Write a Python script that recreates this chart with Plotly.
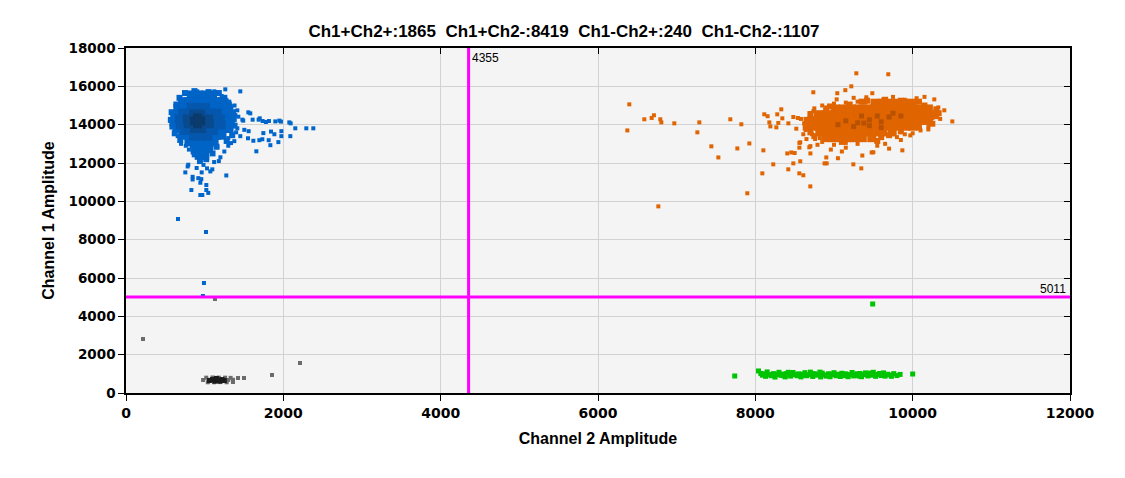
import plotly.graph_objects as go

# ---------------- data ----------------
threshold_ch2 = 4355
threshold_ch1 = 5011
quadrant_labels = ["Ch1+Ch2+", "Ch1+Ch2-", "Ch1-Ch2+", "Ch1-Ch2-"]
quadrant_counts = [1865, 8419, 240, 1107]

x_ticks = [0, 2000, 4000, 6000, 8000, 10000, 12000]
y_ticks = [0, 2000, 4000, 6000, 8000, 10000, 12000, 14000, 16000, 18000]

# Ch1+Ch2- cluster (blue): scattered droplets
blue_points = [
    (1262, 15843), (1453, 15738), (983, 15633), (1415, 14747), (1555, 14643), (1580, 14590),
    (1428, 14416), (1479, 14260), (1490, 14210), (1610, 14260), (1686, 14260), (1700, 14330),
    (1737, 14190), (1779, 14140), (1817, 14190), (1898, 14170), (1949, 14210), (1970, 14160),
    (2076, 14120), (2093, 14070), (2152, 13810), (2292, 13810), (2381, 13810), (2089, 13400),
    (1975, 13400), (1937, 13090), (1835, 12930), (1814, 13190), (1886, 13500), (1975, 13660),
    (1843, 13640), (1746, 13560), (1733, 13240), (1695, 13190), (1619, 13160), (1551, 13290),
    (1559, 13660), (1504, 13730), (1453, 13400), (1377, 13140), (1335, 13040), (1657, 12610),
    (1415, 13810), (1364, 14210), (1356, 14640), (1275, 11350), (754, 11510), (784, 11820),
    (847, 11280), (847, 11140), (919, 11210), (957, 11160), (945, 10970), (1021, 10850),
    (831, 10590), (1021, 10590), (1046, 10440), (945, 10330), (970, 10330), (962, 11510),
    (1097, 11670), (1030, 11720), (1072, 11560), (898, 11740), (792, 11910), (1161, 12820),
    (1120, 12050), (985, 11900), (614, 14100), (631, 13730), (657, 13400), (699, 13400),
    (745, 15130), (834, 15530), (906, 15740), (1122, 15740), (1216, 15500), (1280, 15270),
    (1320, 15100), (1390, 14500), (1400, 13600), (1300, 12900), (1250, 12600), (1200, 12300),
    (861, 12400), (800, 12700), (700, 13000), (1380, 15000), (1180, 12100), (600, 14400),
    (640, 14900), (1340, 14900), (1300, 13300), (760, 12900),
    (661, 9077), (1017, 8400), (991, 5740), (978, 5060),
]
# ragged rim of the blue body
blue_rim = [
    (750, 15650), (870, 15750), (1050, 15700), (1180, 15650), (1250, 15400), (680, 15400),
    (640, 15050), (580, 14650), (570, 14250), (590, 13900), (620, 13550), (1370, 14300),
    (1380, 13950), (1350, 13450), (1280, 13150), (690, 13200), (850, 12900), (1150, 12850),
    (1100, 12500), (860, 12600), (1020, 12200), (940, 12100), (1300, 15150), (1360, 14650),
]
# dense body of the blue cluster, darker towards its centre
blue_body = [
    (830, 15550), (920, 15550), (1010, 15550), (1100, 15550),
    (720, 15200), (800, 15200), (880, 15200), (970, 15200), (1060, 15200), (1150, 15200), (1230, 15200),
    (660, 14850), (740, 14850), (820, 14850), (910, 14850), (1000, 14850), (1090, 14850), (1180, 14850), (1260, 14850), (1300, 14850),
    (620, 14500), (710, 14500), (800, 14500), (890, 14500), (980, 14500), (1070, 14500), (1160, 14500), (1250, 14500), (1330, 14500),
    (610, 14150), (700, 14150), (790, 14150), (880, 14150), (970, 14150), (1060, 14150), (1150, 14150), (1240, 14150), (1320, 14150),
    (650, 13800), (730, 13800), (820, 13800), (910, 13800), (1000, 13800), (1090, 13800), (1180, 13800), (1260, 13800), (1310, 13800),
    (720, 13450), (800, 13450), (880, 13450), (970, 13450), (1060, 13450), (1150, 13450), (1220, 13450),
    (800, 13100), (870, 13100), (960, 13100), (1050, 13100), (1120, 13100),
    (890, 12750), (970, 12750), (1050, 12750),
    (930, 12400), (1000, 12400),
]
blue_mid = [
    (830, 14900), (920, 14900), (1010, 14900),
    (720, 14600), (810, 14600), (900, 14600), (990, 14600), (1080, 14600), (1160, 14600),
    (680, 14300), (770, 14300), (860, 14300), (950, 14300), (1040, 14300), (1130, 14300), (1200, 14300),
    (690, 14000), (780, 14000), (870, 14000), (960, 14000), (1050, 14000), (1140, 14000), (1210, 14000),
    (750, 13700), (840, 13700), (930, 13700), (1020, 13700), (1110, 13700),
    (860, 13400), (950, 13400), (1040, 13400),
]
blue_inner = [
    (860, 14550), (950, 14550),
    (780, 14300), (870, 14300), (960, 14300), (1050, 14300),
    (790, 14050), (880, 14050), (970, 14050), (1060, 14050),
    (870, 13800), (960, 13800),
]
blue_centre = [(870, 14200), (950, 14200), (910, 14050), (910, 14350)]

# Ch1+Ch2+ cluster (orange)
orange_points = [
    (6398, 15060), (6373, 13700), (6589, 14280), (6682, 14350), (6711, 14490), (6792, 14280),
    (6805, 14120), (6970, 14070), (7288, 14120), (7263, 13600), (7682, 14280), (7822, 14020),
    (7441, 12870), (7530, 12290), (7771, 12760), (7924, 13020), (7898, 10420), (6767, 9738),
    (8089, 11460), (8102, 12660), (8228, 11930), (8419, 11670), (8406, 12500), (8457, 12550),
    (8483, 11980), (8559, 11460), (8610, 11360), (8699, 10780), (8571, 12090), (8571, 13080),
    (8686, 12820), (8737, 14700), (8737, 15690), (9042, 15640), (9144, 15800), (9220, 16000),
    (9284, 16680), (9690, 16630), (9487, 15640), (9411, 15430), (9034, 15320), (9627, 15320),
    (10275, 15320), (10326, 14900), (10402, 14750), (10504, 14170), (10199, 13750), (9970, 13440),
    (9869, 12660), (9479, 12550), (9500, 12560), (9360, 12390), (9347, 11720), (9246, 11930),
    (8907, 11980), (8880, 11980), (8902, 12290), (8114, 14540), (8156, 14440), (8178, 14120),
    (8191, 13910), (8267, 13860), (8279, 14540), (8330, 14800), (8343, 14330), (8292, 14090),
    (8420, 14070), (8483, 14400), (8521, 13790), (8540, 14350), (8580, 14300), (8620, 14070),
    (8640, 13720), (8610, 13500), (8650, 13250), (8560, 13050), (8700, 12880), (8760, 13250),
    (8800, 13550), (8790, 12950), (8850, 13100), (9000, 12950), (9150, 12800), (9100, 12600),
    (8960, 12700), (8500, 12520), (8700, 14600), (8750, 14850), (8850, 15000), (9000, 15100),
    (9250, 15400), (9750, 15450), (9900, 15300), (10050, 15380), (10150, 15450), (10200, 13900),
    (10000, 13550), (10250, 14350), (9850, 13200), (9650, 13000), (9550, 12900), (9700, 12750),
    (9050, 12250), (8700, 12500), (8560, 12800), (9150, 15150), (9300, 15200), (9400, 15150),
    (8900, 14900), (10100, 13700), (9900, 13500), (9800, 13350), (9300, 13000), (9150, 13050),
    (8820, 13300), (8720, 13500), (8680, 14300), (8660, 14000), (10300, 14550), (10350, 14300),
]
# ragged rim of the orange body
orange_rim = [
    (9420, 15250), (10080, 15200), (8900, 14750), (8950, 14950), (10300, 14800), (10330, 14600),
    (8700, 14550), (8650, 14250), (8640, 13850), (8700, 13600), (8750, 13400), (8880, 13250),
    (9600, 13350), (9700, 13450), (9850, 13650), (10080, 13850), (10250, 14050), (9550, 13150),
    (9100, 13100), (9200, 15050), (9350, 15200), (10150, 15000), (9850, 15250), (9650, 15300),
]
orange_body = [
    (9520, 15120), (9610, 15120), (9700, 15120), (9800, 15120), (9890, 15120), (9990, 15120),
    (9020, 14820), (9120, 14820), (9220, 14820), (9310, 14820), (9410, 14820), (9510, 14820), (9600, 14820),
    (9700, 14820), (9800, 14820), (9890, 14820), (9990, 14820), (10090, 14820), (10200, 14820),
    (8800, 14520), (8900, 14520), (9000, 14520), (9100, 14520), (9200, 14520), (9300, 14520), (9400, 14520),
    (9500, 14520), (9600, 14520), (9700, 14520), (9800, 14520), (9900, 14520), (10000, 14520), (10100, 14520),
    (10200, 14520), (10280, 14520),
    (8720, 14220), (8820, 14220), (8920, 14220), (9020, 14220), (9120, 14220), (9220, 14220), (9320, 14220),
    (9420, 14220), (9520, 14220), (9620, 14220), (9720, 14220), (9820, 14220), (9920, 14220), (10020, 14220),
    (10120, 14220), (10200, 14220),
    (8710, 13920), (8810, 13920), (8910, 13920), (9010, 13920), (9110, 13920), (9210, 13920), (9310, 13920),
    (9410, 13920), (9510, 13920), (9610, 13920), (9710, 13920), (9810, 13920), (9910, 13920), (10000, 13920),
    (8820, 13620), (8920, 13620), (9020, 13620), (9120, 13620), (9220, 13620), (9320, 13620), (9420, 13620),
    (9520, 13620), (9620, 13620), (9740, 13620),
    (8960, 13320), (9060, 13320), (9160, 13320), (9260, 13320), (9360, 13320), (9480, 13320),
]
orange_dense = [
    (9150, 14200), (9300, 14100), (9450, 14250), (9600, 14150), (9350, 14450), (9550, 14450),
    (9700, 14400), (9250, 13900), (9450, 13950), (9750, 14600), (9050, 14000), (9600, 13850),
    (9850, 14450), (9380, 14080),
]

# Ch1-Ch2+ cluster (green)
green_points = [
    (7738, 887), (8040, 1150), (8070, 1020), (8090, 930), (8130, 870), (8150, 1100), (8170, 960),
    (8200, 900), (8230, 1010), (8250, 830), (8280, 950), (8300, 1080), (8330, 920), (8350, 990),
    (8380, 840), (8400, 1020), (8430, 940), (8450, 880), (8480, 1070), (8500, 960), (8530, 900),
    (8550, 1000), (8580, 840), (8600, 980), (8630, 1060), (8650, 900), (8680, 950), (8700, 1090),
    (8730, 860), (8750, 1010), (8780, 930), (8800, 970), (8830, 840), (8850, 1040), (8880, 950),
    (8900, 880), (8930, 1000), (8950, 850), (8980, 960), (9000, 1060), (9030, 900), (9050, 980),
    (9080, 860), (9100, 1030), (9130, 940), (9150, 1000), (9180, 850), (9200, 960), (9230, 1070),
    (9250, 890), (9280, 980), (9300, 920), (9330, 1020), (9350, 850), (9380, 960), (9400, 1050),
    (9430, 890), (9450, 990), (9480, 930), (9500, 1080), (9530, 870), (9550, 970), (9580, 1020),
    (9600, 910), (9630, 1050), (9650, 880), (9680, 980), (9720, 940), (9760, 1010), (9800, 910),
    (9840, 970), (10000, 991), (8250, 980), (8600, 920), (8950, 990), (9300, 1000), (9650, 950),
    (8120, 1000), (8420, 1080), (8720, 1000), (9020, 940), (9320, 880), (9620, 990), (8360, 900),
    (8820, 1090), (9140, 900), (9460, 1040), (9730, 870), (9492, 4643),
]

# Ch1-Ch2- cluster (grey / black)
grey_points = [
    (1020, 800), (1100, 810), (1180, 800), (1260, 800), (1330, 790),
    (980, 680), (1060, 690), (1140, 680), (1220, 690), (1300, 680), (1360, 690),
    (1040, 560), (1120, 560), (1200, 570), (1280, 560),
    (216, 2817), (2212, 1565), (1856, 939), (1424, 782), (1500, 782), (1360, 574), (1131, 4903),
]
black_points = [(1100, 700), (1160, 680), (1220, 700), (1130, 620), (1190, 620), (1150, 760), (1060, 650), (1250, 650)]

# ---------------- figure ----------------
def xs(pts):
    return [p[0] for p in pts]


def ys(pts):
    return [p[1] for p in pts]


fig = go.Figure()


def add(pts, color, size):
    fig.add_trace(go.Scatter(
        x=xs(pts), y=ys(pts), mode="markers",
        marker=dict(symbol="square", size=size, color=color, line=dict(width=0)),
        hoverinfo="skip", showlegend=False,
    ))


add(grey_points, "#6b6b6b", 4)
add(black_points, "#1a1a1a", 5)
add(green_points, "#00c400", 5)
add(orange_points, "#e06400", 4)
add(orange_rim, "#e06400", 6)
add(orange_body, "#e06400", 9)
add(orange_dense, "#b85200", 5)
add(blue_points, "#0066cc", 4)
add(blue_rim, "#0066cc", 6)
add(blue_body, "#0063c6", 9)
add(blue_mid, "#0557ad", 9)
add(blue_inner, "#094a8e", 9)
add(blue_centre, "#0b3b6c", 9)

# empty trace to host the mirrored top / right axes
fig.add_trace(go.Scatter(x=[], y=[], xaxis="x2", yaxis="y2", showlegend=False, hoverinfo="skip"))

title_text = "\u00a0\u00a0".join(f"{lab}:{cnt}" for lab, cnt in zip(quadrant_labels, quadrant_counts))

FONT = "Liberation Sans, Arial, sans-serif"
TICKFONT = dict(family="DejaVu Sans, sans-serif", size=13.5, color="black", weight="bold")
AXTITLE = dict(family=FONT, size=16, color="black", weight="bold")

# the page body adds an 8px offset, so margins are reduced by 8px on the left/top
fig.update_layout(
    width=1125, height=478,
    margin=dict(l=118, r=63, t=40, b=93),
    paper_bgcolor="white", plot_bgcolor="#f4f4f4",
    title=dict(text=title_text, x=556 / 1125, xref="container", xanchor="center",
               y=1 - 23 / 478, yref="container", yanchor="middle",
               font=dict(family=FONT, size=17, color="black", weight="bold")),
    xaxis=dict(range=[0, 12000], tickvals=x_ticks, ticktext=[str(v) for v in x_ticks],
               showgrid=True, gridcolor="#d2d2d2", gridwidth=1, zeroline=False,
               showline=True, linecolor="black", linewidth=1.5,
               ticks="outside", ticklen=6, tickcolor="black", tickfont=dict(TICKFONT, size=14),
               title=dict(text="Channel 2 Amplitude", font=AXTITLE, standoff=13)),
    yaxis=dict(range=[0, 18000], tickvals=y_ticks, ticktext=[str(v) for v in y_ticks],
               showgrid=True, gridcolor="#d2d2d2", gridwidth=1, zeroline=False,
               showline=True, linecolor="black", linewidth=1.5,
               ticks="outside", ticklen=6, tickcolor="black", tickfont=TICKFONT,
               title=dict(text="Channel 1 Amplitude", font=AXTITLE, standoff=10)),
    xaxis2=dict(overlaying="x", side="top", range=[0, 12000], tickvals=x_ticks,
                showticklabels=False, showgrid=False, zeroline=False,
                showline=True, linecolor="black", linewidth=1.5,
                ticks="inside", ticklen=6, tickcolor="black"),
    yaxis2=dict(overlaying="y", side="right", range=[0, 18000], tickvals=y_ticks,
                showticklabels=False, showgrid=False, zeroline=False,
                showline=True, linecolor="black", linewidth=1.5,
                ticks="inside", ticklen=6, tickcolor="black"),
    shapes=[
        dict(type="line", xref="x", yref="y", x0=threshold_ch2, x1=threshold_ch2, y0=0, y1=18000,
             line=dict(color="#ff00ff", width=3), layer="above"),
        dict(type="line", xref="x", yref="y", x0=0, x1=12000, y0=threshold_ch1, y1=threshold_ch1,
             line=dict(color="#ff00ff", width=3), layer="above"),
    ],
    annotations=[
        dict(x=threshold_ch2, y=18000, xref="x", yref="y", text=str(threshold_ch2),
             showarrow=False, xanchor="left", yanchor="top", xshift=1, yshift=-1,
             font=dict(family=FONT, size=12, color="black")),
        dict(x=12000, y=threshold_ch1, xref="x", yref="y", text=str(threshold_ch1),
             showarrow=False, xanchor="right", yanchor="bottom", xshift=-2, yshift=-1,
             font=dict(family=FONT, size=12, color="black")),
    ],
)

fig.write_html("out.html")
